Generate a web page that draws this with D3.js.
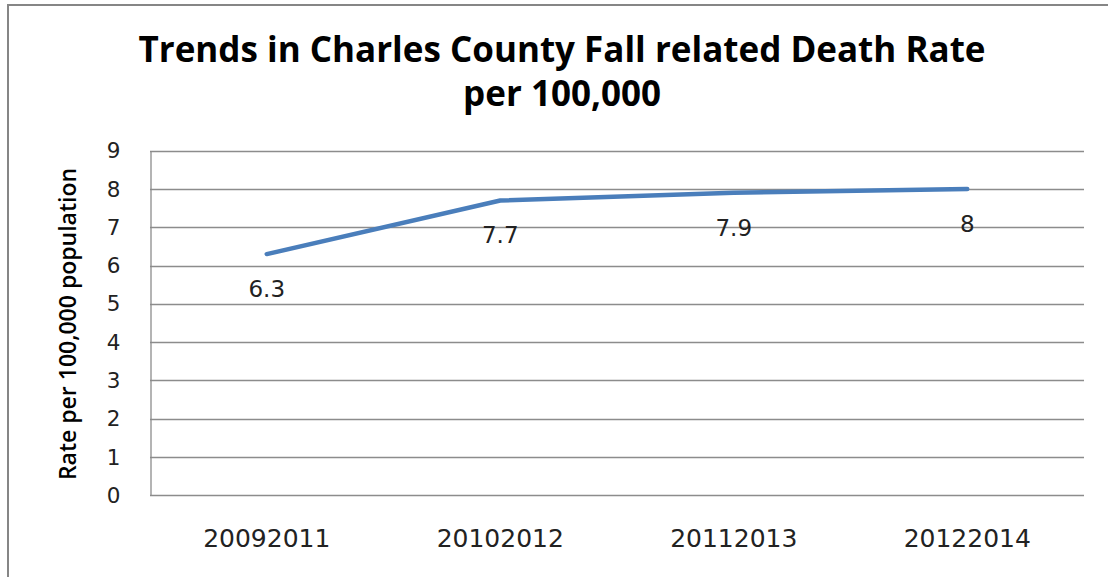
<!DOCTYPE html>
<html>
<head>
<meta charset="utf-8">
<script src="https://cdn.jsdelivr.net/npm/d3@7"></script>
<style>
  html, body { margin: 0; padding: 0; background: #fff; }
  svg { display: block; }
</style>
</head>
<body>
<div id="chart"></div>
<script>
const periods = ["20092011", "20102012", "20112013", "20122014"]
const rates = [6.3, 7.7, 7.9, 8]
const yTicks = [0, 1, 2, 3, 4, 5, 6, 7, 8, 9]
const titleLines = ["Trends in Charles County Fall related Death Rate", "per 100,000"]
const yTitle = "Rate per 100,000 population"

const width = 1108
const height = 577
const margin = [150.7, 24, 81.7, 150] // top right bottom left
const lineColor = "#4a7ebb"
const gridColor = "#8c8c8c"

const svg = d3
  .select("#chart")
  .append("svg")
  .attr("width", width)
  .attr("height", height)
  .attr("viewBox", [0, 0, width, height])

// chart area frame (cropped on right / bottom)
svg
  .append("rect")
  .attr("x", 8)
  .attr("y", 5)
  .attr("width", width + 20)
  .attr("height", height + 20)
  .attr("fill", "none")
  .attr("stroke", "#868686")
  .attr("stroke-width", 2)

const x = d3
  .scaleBand()
  .domain(periods)
  .range([margin[3], width - margin[1]])
const y = d3
  .scaleLinear()
  .domain([0, 9])
  .range([height - margin[2], margin[0]])

// gridlines
svg
  .append("g")
  .selectAll("line")
  .data(yTicks)
  .join("line")
  .attr("x1", margin[3])
  .attr("x2", width - margin[1])
  .attr("y1", d => Math.round(y(d)) + 0.5)
  .attr("y2", d => Math.round(y(d)) + 0.5)
  .attr("stroke", gridColor)
  .attr("stroke-width", 1.3)

// y axis
const yAxis = d3.axisLeft(y).tickValues(yTicks).tickSize(0).tickPadding(30)
svg
  .append("g")
  .attr("transform", `translate(${margin[3] + 0.5},0)`)
  .call(yAxis)
  .call(g => g.select(".domain").attr("stroke", gridColor).attr("stroke-width", 1.3))
  .call(g =>
    g
      .selectAll(".tick text")
      .attr("font-family", "DejaVu Sans")
      .attr("font-size", 21.5)
      .attr("fill", "#222")
      .attr("dy", "0.33em")
  )

// x axis labels
const xAxis = d3.axisBottom(x).tickSize(0).tickPadding(34)
svg
  .append("g")
  .attr("transform", `translate(0,${height - margin[2]})`)
  .call(xAxis)
  .call(g => g.select(".domain").remove())
  .call(g =>
    g
      .selectAll(".tick text")
      .attr("font-family", "DejaVu Sans")
      .attr("font-size", 25)
      .attr("fill", "#222")
  )

// line
const line = d3
  .line()
  .x((d, i) => x(periods[i]) + x.bandwidth() / 2)
  .y(d => y(d))
svg
  .append("path")
  .datum(rates)
  .attr("fill", "none")
  .attr("stroke", lineColor)
  .attr("stroke-width", 4.5)
  .attr("stroke-linejoin", "round")
  .attr("stroke-linecap", "round")
  .attr("d", line)

// data labels
svg
  .append("g")
  .selectAll("text")
  .data(rates)
  .join("text")
  .attr("x", (d, i) => x(periods[i]) + x.bandwidth() / 2)
  .attr("y", d => y(d) + 43)
  .attr("text-anchor", "middle")
  .attr("font-family", "DejaVu Sans")
  .attr("font-size", 23)
  .attr("fill", "#222")
  .text(d => d)

// title
svg
  .append("g")
  .selectAll("text")
  .data(titleLines)
  .join("text")
  .attr("x", 562)
  .attr("y", (d, i) => 62 + i * 44)
  .attr("text-anchor", "middle")
  .attr("font-family", "Open Sans")
  .attr("font-weight", "bold")
  .attr("font-size", 35)
  .attr("fill", "#000")
  .text(d => d)

// y axis title
svg
  .append("text")
  .attr("transform", "translate(76,324)rotate(-90)")
  .attr("text-anchor", "middle")
  .attr("font-family", "Open Sans")
  .attr("font-weight", 600)
  .attr("font-size", 23)
  .attr("fill", "#000")
  .text(yTitle)
</script>
</body>
</html>
